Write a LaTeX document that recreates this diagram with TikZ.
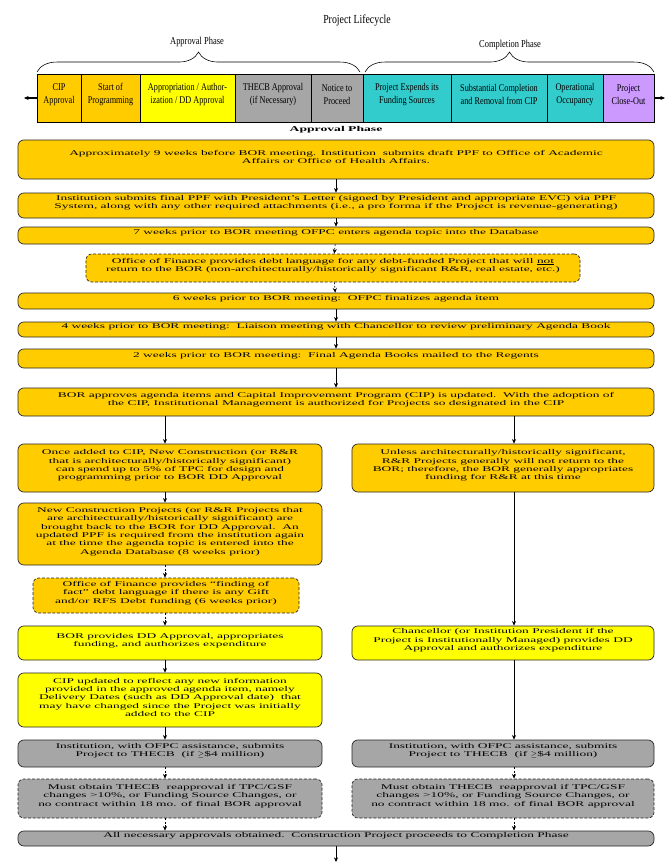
\documentclass[tikz,border=0pt]{standalone}
\usepackage{fontspec}
\usepackage{amssymb}
\setmainfont{Liberation Serif}
\newfontfamily\wideserif[FakeStretch=1.85]{Liberation Serif}
\newfontfamily\narrowserif[FakeStretch=0.8]{Liberation Serif}
\usetikzlibrary{arrows.meta, calc, fit, decorations.pathreplacing}
\definecolor{StepOrange}{HTML}{FFCC00}
\definecolor{StepYellow}{HTML}{FFFF00}
\definecolor{StepGray}{HTML}{A6A6A6}
\definecolor{StepTeal}{HTML}{33CCCC}
\definecolor{StepLilac}{HTML}{CC99FF}

\begin{document}
\begin{tikzpicture}[x=0.03cm, y=-0.03cm, >={Stealth[length=4pt,width=3.5pt]},
    stepbox/.style={draw=black!85, line width=0.6pt, rounded corners=5pt, inner sep=0pt,
        align=center, font={\wideserif\fontsize{6.2}{7.1}\selectfont}, text depth=-3.5pt},
    optbox/.style={stepbox, dashed, dash pattern=on 2.5pt off 1.5pt},
    cell/.style={draw=black, line width=0.6pt, inner sep=0pt, align=center,
        font={\narrowserif\fontsize{8.8}{11}\selectfont}},
    phaselabel/.style={font={\narrowserif\fontsize{9}{11}\selectfont}},
    flow/.style={->, line width=0.6pt},
    optflow/.style={flow, dashed, dash pattern=on 1.5pt off 1.5pt}]

    % Frame of the page
    \useasboundingbox (0,0) rectangle (672,867);

    % Title and phase braces
    \node[font={\narrowserif\fontsize{10.5}{12}\selectfont}] (title) at (357,20) {Project Lifecycle};
    \draw[decorate, decoration={brace, amplitude=17pt}, line width=0.5pt] (37,72) -- (360,72);
    \node[phaselabel] (approvalhead) at (197,42) {Approval Phase};
    \draw[decorate, decoration={brace, amplitude=17pt}, line width=0.5pt] (365,72) -- (654,72);
    \node[phaselabel] (completionhead) at (510,45) {Completion Phase};

    % Lifecycle strip
    \node[cell, fill=StepOrange, fit={(37,74) (81,122)}] (cip) {CIP\\Approval};
    \node[cell, fill=StepOrange, fit={(81,74) (140,122)}] (prog) {Start of\\Programming};
    \node[cell, fill=StepYellow, fit={(140,74) (235,122)}] (approp) {Appropriation / Author-\\ization / DD Approval};
    \node[cell, fill=StepGray, fit={(235,74) (311,122)}] (thecb) {THECB Approval\\(if Necessary)};
    \node[cell, fill=StepGray, fit={(311,74) (363,122)}] (ntp) {Notice to\\Proceed};
    \node[cell, fill=StepTeal, fit={(363,74) (451,122)}] (expends) {Project Expends its\\Funding Sources};
    \node[cell, fill=StepTeal, fit={(451,74) (547,122)}] (substantial) {Substantial Completion\\and Removal from CIP};
    \node[cell, fill=StepTeal, fit={(547,74) (603,122)}] (occupancy) {Operational\\Occupancy};
    \node[cell, fill=StepLilac, fit={(603,74) (654,122)}] (closeout) {Project\\Close-Out};
    \coordinate (pastend) at (24,98);
    \coordinate (future) at (665,98);
    \draw[->, line width=1.3pt] (cip.west) -- (pastend);
    \draw[->, line width=1.3pt] (closeout.east) -- (future);

    \node[font={\wideserif\fontsize{6.3}{7.5}\selectfont\bfseries}] (approvalphase) at (336,130) {Approval Phase};

    % Common track
    \node[stepbox, fill=StepOrange, text depth=19pt, fit={(18,140) (654,179)}] (draftppf)
        {Approximately 9 weeks before BOR meeting. Institution\ \ submits draft PPF to Office of Academic\\
         Affairs or Office of Health Affairs.};
    \node[stepbox, fill=StepOrange, fit={(18,193) (654,218)}] (finalppf)
        {Institution submits final PPF with President’s Letter (signed by President and appropriate EVC) via PPF\\
         System, along with any other required attachments (i.e., a pro forma if the Project is revenue-generating)};
    \node[stepbox, fill=StepOrange, fit={(18,227) (654,244)}] (topic)
        {7 weeks prior to BOR meeting OFPC enters agenda topic into the Database};
    \node[optbox, fill=StepOrange, fit={(86,254) (580,282)}] (debtlang)
        {Office of Finance provides debt language for any debt-funded Project that will \underline{not}\\
         return to the BOR (non-architecturally/historically significant R\&R, real estate, etc.)};
    \node[stepbox, fill=StepOrange, fit={(18,293) (654,309)}] (finalize)
        {6 weeks prior to BOR meeting:\ \ OFPC finalizes agenda item};
    \node[stepbox, fill=StepOrange, fit={(18,322) (654,337)}] (liaison)
        {4 weeks prior to BOR meeting:\ \ Liaison meeting with Chancellor to review preliminary Agenda Book};
    \node[stepbox, fill=StepOrange, fit={(18,349) (654,368)}] (mailed)
        {2 weeks prior to BOR meeting:\ \ Final Agenda Books mailed to the Regents};
    \node[stepbox, fill=StepOrange, fit={(18,388) (654,416)}] (borapproves)
        {BOR approves agenda items and Capital Improvement Program (CIP) is updated.\ \ With the adoption of\\
         the CIP, Institutional Management is authorized for Projects so designated in the CIP};

    % New construction track
    \coordinate (lefttrack) at (165,0);
    \node[stepbox, fill=StepOrange, fit={(18,444) (322,492)}] (newcip)
        {Once added to CIP, New Construction (or R\&R\\ that is architecturally/historically significant)\\
         can spend up to 5\% of TPC for design and\\ programming prior to BOR DD Approval};
    \node[stepbox, fill=StepOrange, fit={(18,503) (322,565)}] (backtobor)
        {New Construction Projects (or R\&R Projects that\\ are architecturally/historically significant) are\\
         brought back to the BOR for DD Approval.\ \ An\\ updated PPF is required from the institution again\\
         at the time the agenda topic is entered into the\\ Agenda Database (8 weeks prior)};
    \node[optbox, fill=StepOrange, fit={(33,578) (299,613)}] (findingfact)
        {Office of Finance provides “finding of\\ fact” debt language if there is any Gift\\
         and/or RFS Debt funding (6 weeks prior)};
    \node[stepbox, fill=StepYellow, fit={(18,626) (322,660)}] (borddapp)
        {BOR provides DD Approval, appropriates\\ funding, and authorizes expenditure};
    \node[stepbox, fill=StepYellow, fit={(18,673) (322,727)}] (cipupdate)
        {CIP updated to reflect any new information\\ provided in the approved agenda item, namely\\
         Delivery Dates (such as DD Approval date)\ \ that\\ may have changed since the Project was initially\\
         added to the CIP};
    \node[stepbox, fill=StepGray, fit={(18,740) (322,767)}] (thecbnew)
        {Institution, with OFPC assistance, submits\\ Project to THECB\ \ (if $\geq$\$4 million)};
    \node[optbox, fill=StepGray, fit={(18,779) (322,818)}] (reapnew)
        {Must obtain THECB\ \ reapproval if TPC/GSF\\ changes >10\%, or Funding Source Changes, or\\
         no contract within 18 mo. of final BOR approval};

    % R&R track
    \coordinate (righttrack) at (514,0);
    \node[stepbox, fill=StepOrange, fit={(352,444) (654,492)}] (rrnoreturn)
        {Unless architecturally/historically significant,\\ R\&R Projects generally will not return to the\\
         BOR; therefore, the BOR generally appropriates\\ funding for R\&R at this time};
    \node[stepbox, fill=StepYellow, fit={(352,626) (654,660)}] (chancellor)
        {Chancellor (or Institution President if the\\ Project is Institutionally Managed) provides DD\\
         Approval and authorizes expenditure};
    \node[stepbox, fill=StepGray, fit={(352,740) (654,767)}] (thecbrr)
        {Institution, with OFPC assistance, submits\\ Project to THECB\ \ (if $\geq$\$4 million)};
    \node[optbox, fill=StepGray, fit={(352,779) (654,818)}] (reaprr)
        {Must obtain THECB\ \ reapproval if TPC/GSF\\ changes >10\%, or Funding Source Changes, or\\
         no contract within 18 mo. of final BOR approval};

    % Hand-off
    \node[stepbox, fill=StepGray, fit={(18,831) (654,846)}] (allapproved)
        {All necessary approvals obtained.\ \ Construction Project proceeds to Completion Phase};
    \coordinate (tocompletion) at (336,862);

    % Connectors
    \draw[flow] (draftppf) -- (finalppf);
    \draw[flow] (finalppf) -- (topic);
    \draw[optflow] (topic) -- (debtlang);
    \draw[optflow] (debtlang) -- (finalize);
    \draw[flow] (finalize) -- (liaison);
    \draw[flow] (liaison) -- (mailed);
    \draw[flow] (mailed) -- (borapproves);
    \draw[flow] (borapproves.south -| lefttrack) -- (newcip.north -| lefttrack);
    \draw[flow] (borapproves.south -| righttrack) -- (rrnoreturn.north -| righttrack);
    \draw[flow] (newcip.south -| lefttrack) -- (backtobor.north -| lefttrack);
    \draw[optflow] (backtobor.south -| lefttrack) -- (findingfact.north -| lefttrack);
    \draw[optflow] (findingfact.south -| lefttrack) -- (borddapp.north -| lefttrack);
    \draw[flow] (borddapp.south -| lefttrack) -- (cipupdate.north -| lefttrack);
    \draw[flow] (cipupdate.south -| lefttrack) -- (thecbnew.north -| lefttrack);
    \draw[optflow] (thecbnew.south -| lefttrack) -- (reapnew.north -| lefttrack);
    \draw[optflow] (reapnew.south -| lefttrack) -- (allapproved.north -| lefttrack);
    \draw[flow] (rrnoreturn.south -| righttrack) -- (chancellor.north -| righttrack);
    \draw[flow] (chancellor.south -| righttrack) -- (thecbrr.north -| righttrack);
    \draw[optflow] (thecbrr.south -| righttrack) -- (reaprr.north -| righttrack);
    \draw[optflow] (reaprr.south -| righttrack) -- (allapproved.north -| righttrack);
    \draw[flow] (allapproved) -- (tocompletion);
\end{tikzpicture}
\end{document}
